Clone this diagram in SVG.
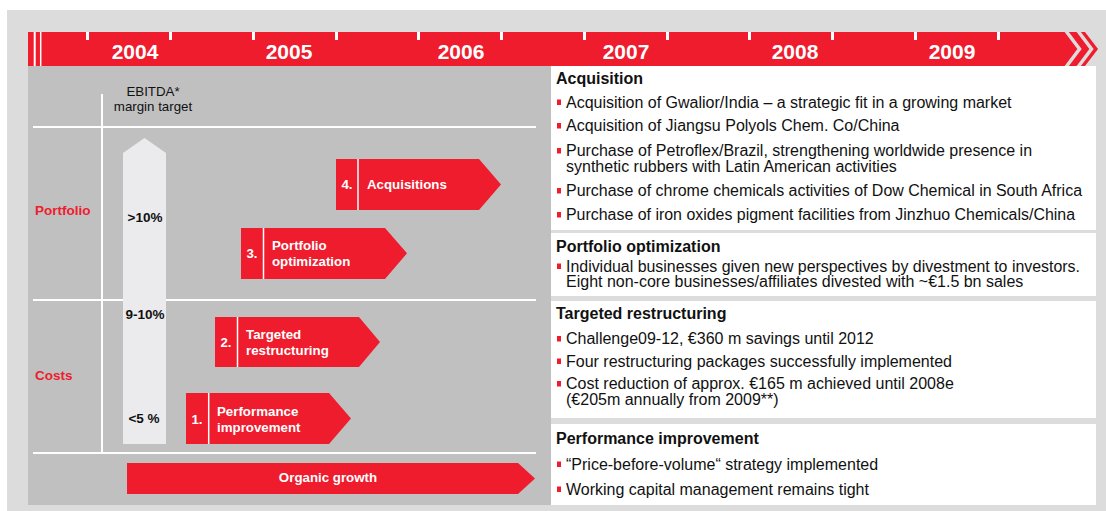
<svg xmlns="http://www.w3.org/2000/svg" width="1106" height="511" viewBox="0 0 1106 511">
<defs>
<style>
.yr{font-family:"Liberation Sans",Arial,sans-serif;font-weight:bold;font-size:21px;fill:#fff;text-anchor:middle}
.al{font-family:"Liberation Sans",Arial,sans-serif;font-weight:bold;font-size:13.3px;fill:#fff}
.lbl{font-family:"Liberation Sans",Arial,sans-serif;font-weight:bold;font-size:13.5px;fill:#ee1c2d}
.pct{font-family:"Liberation Sans",Arial,sans-serif;font-weight:bold;font-size:13.5px;fill:#111;text-anchor:middle}
.sm{font-family:"Liberation Sans",Arial,sans-serif;font-size:13.3px;fill:#111;text-anchor:middle}
.hd{font-family:"Liberation Sans",Arial,sans-serif;font-weight:bold;font-size:16px;fill:#111}
.tx{font-family:"Liberation Sans",Arial,sans-serif;font-size:16px;fill:#111}
.red{fill:#ee1c2d}
.wl{stroke:#fff;stroke-width:2;fill:none}
.bul{fill:#ee1c2d}
</style>
</defs>
<rect x="7" y="10" width="1099" height="501" fill="#dcdcdc"/>
<rect x="28" y="66" width="523" height="439" fill="#c0c0c0"/>
<g id="timeline">
<polygon class="red" points="28,32 1085,32 1098,49 1085,66 28,66"/>
<line x1="34.7" y1="32" x2="34.7" y2="66" stroke="#fff" stroke-width="2"/>
<line x1="40.7" y1="32" x2="40.7" y2="66" stroke="#fff" stroke-width="1.5"/>
<polyline points="1066,31 1079.5,49 1066,67" fill="none" stroke="#dcdcdc" stroke-width="3.5"/>
<polyline points="1078,31 1091.5,49 1078,67" fill="none" stroke="#dcdcdc" stroke-width="3.5"/>
<g fill="#fff">
<rect x="86" y="32" width="3" height="8"/><rect x="169" y="32" width="3" height="8"/><rect x="252" y="32" width="3" height="8"/><rect x="335" y="32" width="3" height="8"/><rect x="417" y="32" width="3" height="8"/><rect x="500" y="32" width="3" height="8"/><rect x="583" y="32" width="3" height="8"/><rect x="666" y="32" width="3" height="8"/><rect x="748" y="32" width="3" height="8"/><rect x="831" y="32" width="3" height="8"/><rect x="914" y="32" width="3" height="8"/><rect x="997" y="32" width="3" height="8"/>
</g>
<text class="yr" x="135" y="58.5">2004</text>
<text class="yr" x="289" y="58.5">2005</text>
<text class="yr" x="461" y="58.5">2006</text>
<text class="yr" x="626" y="58.5">2007</text>
<text class="yr" x="795" y="58.5">2008</text>
<text class="yr" x="952" y="58.5">2009</text>
</g>
<g id="grid">
<line class="wl" x1="102" y1="94" x2="102" y2="453"/>
<line class="wl" x1="33" y1="127" x2="536" y2="127"/>
<line class="wl" x1="33" y1="300" x2="536" y2="300"/>
<line class="wl" x1="33" y1="453" x2="536" y2="453"/>
<text class="sm" x="153" y="96">EBITDA*</text>
<text class="sm" x="153" y="111">margin target</text>
<text class="lbl" x="35" y="215">Portfolio</text>
<text class="lbl" x="35" y="380">Costs</text>
</g>
<g id="margin-arrow">
<polygon points="144.5,138 166,153 166,444 123,444 123,153" fill="#ebebed"/>
<text class="pct" x="145" y="222">&gt;10%</text>
<text class="pct" x="145" y="319">9-10%</text>
<text class="pct" x="144" y="423">&lt;5 %</text>
</g>
<g id="step4">
<polygon class="red" points="336,159 479,159 501,184.5 479,210 336,210"/>
<line x1="358" y1="159" x2="358" y2="210" stroke="#fff" stroke-width="1.5"/>
<text class="al" x="347" y="188.5" text-anchor="middle">4.</text>
<text class="al" x="367" y="188.5">Acquisitions</text>
</g>
<g id="step3">
<polygon class="red" points="241,228 385,228 407,253.3 385,279 241,279"/>
<line x1="263.5" y1="228" x2="263.5" y2="279" stroke="#fff" stroke-width="1.5"/>
<text class="al" x="252" y="258" text-anchor="middle">3.</text>
<text class="al" x="272" y="249.5">Portfolio</text>
<text class="al" x="272" y="265.5">optimization</text>
</g>
<g id="step2">
<polygon class="red" points="215,317 359,317 380,342 359,367 215,367"/>
<line x1="237.5" y1="317" x2="237.5" y2="367" stroke="#fff" stroke-width="1.5"/>
<text class="al" x="226" y="347" text-anchor="middle">2.</text>
<text class="al" x="246" y="338.5">Targeted</text>
<text class="al" x="246" y="354.5">restructuring</text>
</g>
<g id="step1">
<polygon class="red" points="186,393 329,393 351,418.5 329,444 186,444"/>
<line x1="208.7" y1="393" x2="208.7" y2="444" stroke="#fff" stroke-width="1.5"/>
<text class="al" x="197" y="423.5" text-anchor="middle">1.</text>
<text class="al" x="217" y="416">Performance</text>
<text class="al" x="217" y="432">improvement</text>
</g>
<g id="organic-growth">
<polygon class="red" points="127,463 518,463 535,478.5 518,494 127,494"/>
<text class="al" x="328" y="482" text-anchor="middle">Organic growth</text>
</g>
<g id="panel-acquisition">
<rect x="551" y="66" width="545" height="164" fill="#fff"/>
<text class="hd" x="556" y="83.5">Acquisition</text>
<rect class="bul" x="557" y="99.5" width="4" height="5.5"/>
<text class="tx" x="566" y="107.5">Acquisition of Gwalior/India – a strategic fit in a growing market</text>
<rect class="bul" x="557" y="123" width="4" height="5.5"/>
<text class="tx" x="566" y="131">Acquisition of Jiangsu Polyols Chem. Co/China</text>
<rect class="bul" x="557" y="148" width="4" height="5.5"/>
<text class="tx" x="566" y="156">Purchase of Petroflex/Brazil, strengthening worldwide presence in</text>
<text class="tx" x="566" y="171.5">synthetic rubbers with Latin American activities</text>
<rect class="bul" x="557" y="188" width="4" height="5.5"/>
<text class="tx" x="566" y="196" textLength="516" lengthAdjust="spacingAndGlyphs">Purchase of chrome chemicals activities of Dow Chemical in South Africa</text>
<rect class="bul" x="557" y="212" width="4" height="5.5"/>
<text class="tx" x="566" y="220" textLength="509" lengthAdjust="spacingAndGlyphs">Purchase of iron oxides pigment facilities from Jinzhuo Chemicals/China</text>
</g>
<g id="panel-portfolio">
<rect x="551" y="233" width="545" height="63" fill="#fff"/>
<text class="hd" x="556" y="251.5">Portfolio optimization</text>
<rect class="bul" x="557" y="263.5" width="4" height="5.5"/>
<text class="tx" x="566" y="271.5" textLength="514" lengthAdjust="spacingAndGlyphs">Individual businesses given new perspectives by divestment to investors.</text>
<text class="tx" x="566" y="286.5">Eight non-core businesses/affiliates divested with ~€1.5 bn sales</text>
</g>
<g id="panel-restructuring">
<rect x="551" y="301" width="545" height="117" fill="#fff"/>
<text class="hd" x="556" y="318.5">Targeted restructuring</text>
<rect class="bul" x="557" y="336" width="4" height="5.5"/>
<text class="tx" x="566" y="344">Challenge09-12, €360 m savings until 2012</text>
<rect class="bul" x="557" y="358.5" width="4" height="5.5"/>
<text class="tx" x="566" y="366.5">Four restructuring packages successfully implemented</text>
<rect class="bul" x="557" y="381" width="4" height="5.5"/>
<text class="tx" x="566" y="389">Cost reduction of approx. €165 m achieved until 2008e</text>
<text class="tx" x="566" y="405">(€205m annually from 2009**)</text>
</g>
<g id="panel-performance">
<rect x="551" y="424" width="545" height="81" fill="#fff"/>
<text class="hd" x="556" y="444">Performance improvement</text>
<rect class="bul" x="557" y="461.5" width="4" height="5.5"/>
<text class="tx" x="566" y="469.5">“Price-before-volume“ strategy implemented</text>
<rect class="bul" x="557" y="486.5" width="4" height="5.5"/>
<text class="tx" x="566" y="494.5">Working capital management remains tight</text>
</g>
</svg>
